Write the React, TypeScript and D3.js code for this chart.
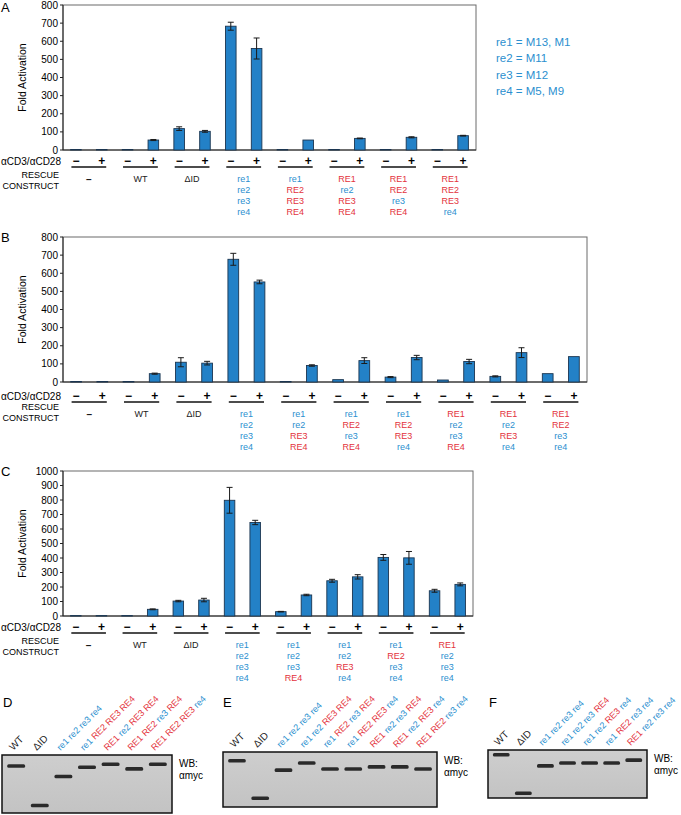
import * as d3 from "d3";

const FONT = "Arial, 'Liberation Sans', Helvetica, sans-serif";
const BLUE_TXT = "#2b8fcf";
const RED_TXT = "#e3333c";
const BAR_FILL = "#2381c7";
const BAR_STROKE = "#1b3550";
const LEFT = 63;

// panel A
const groupsA = ["-", "WT", "ΔID", "re1 re2 re3 re4", "re1 RE2 RE3 RE4", "RE1 re2 RE3 RE4", "RE1 RE2 re3 RE4", "RE1 RE2 RE3 re4"];
const valuesA = [3, 3, 3, 55, 118, 103, 683, 560, 3, 55, 3, 64, 3, 70, 3, 79];
const errorsA = [0, 0, 0, 3, 10, 5, 22, 58, 0, 0, 0, 2, 0, 3, 0, 2];

// panel B
const groupsB = ["-", "WT", "ΔID", "re1 re2 re3 re4", "re1 re2 RE3 RE4", "re1 RE2 re3 RE4", "re1 RE2 RE3 re4", "RE1 re2 re3 RE4", "RE1 re2 RE3 re4", "RE1 RE2 re3 re4"];
const valuesB = [3, 3, 3, 46, 109, 104, 677, 552, 3, 91, 13, 118, 27, 135, 11, 113, 31, 162, 46, 140];
const errorsB = [0, 0, 0, 3, 25, 10, 33, 10, 0, 4, 0, 16, 3, 12, 0, 12, 3, 27, 0, 0];

// panel C
const groupsC = ["-", "WT", "ΔID", "re1 re2 re3 re4", "re1 re2 re3 RE4", "re1 re2 RE3 re4", "re1 RE2 re3 re4", "RE1 re2 re3 re4"];
const valuesC = [3, 3, 3, 46, 103, 110, 798, 645, 30, 145, 243, 270, 404, 401, 174, 218];
const errorsC = [0, 0, 0, 3, 5, 12, 89, 15, 2, 5, 10, 15, 20, 44, 10, 10];

const legendLabels = ["re1 = M13, M1", "re2 = M11", "re3 = M12", "re4 = M5, M9"];

// western blots: lane labels and band mobility (0 = top of blot, 1 = bottom)
const lanesD = ["WT", "ΔID", "re1 re2 re3 re4", "re1 RE2 RE3 RE4", "RE1 re2 RE3 RE4", "RE1 RE2 re3 RE4", "RE1 RE2 RE3 re4"];
const bandsD = [0.19, 0.87, 0.37, 0.21, 0.16, 0.24, 0.16];
const lanesE = ["WT", "ΔID", "re1 re2 re3 re4", "re1 re2 RE3 RE4", "re1 RE2 re3 RE4", "re1 RE2 RE3 re4", "RE1 re2 re3 RE4", "RE1 re2 RE3 re4", "RE1 RE2 re3 re4"];
const bandsE = [0.16, 0.84, 0.33, 0.2, 0.31, 0.31, 0.27, 0.27, 0.31];
const lanesF = ["WT", "ΔID", "re1 re2 re3 re4", "re1 re2 re3 RE4", "re1 re2 RE3 re4", "re1 RE2 re3 re4", "RE1 re2 re3 re4"];
const bandsF = [0.1, 0.9, 0.33, 0.27, 0.27, 0.27, 0.21];

const tokenColor = (t: string) => (t.startsWith("RE") ? RED_TXT : t.startsWith("re") ? BLUE_TXT : "#1a1a1a");

type PanelProps = {
  letter: string;
  top: number;
  bottom: number;
  right: number;
  yMax: number;
  groups: string[];
  values: number[];
  errors: number[];
  shift: number;
};

const BarPanel = ({ letter, top, bottom, right, yMax, groups, values, errors, shift }: PanelProps) => {
  const x = d3
    .scaleBand<number>()
    .domain(d3.range(values.length))
    .range([LEFT, right])
    .paddingInner(0.59)
    .paddingOuter(0.295);
  const y = d3.scaleLinear().domain([0, yMax]).range([bottom, top]);
  const bw = x.bandwidth();
  const cx = (i: number) => (x(i) ?? 0) + bw / 2;

  return (
    <g>
      <text x={1} y={Math.max(top + 5, 12)} fontSize={13}>{letter}</text>
      <rect x={LEFT} y={top} width={right - LEFT} height={bottom - top} fill="none" stroke="#6a6a6a" />
      <line x1={LEFT} x2={LEFT} y1={top} y2={bottom} stroke="#222" />
      <line x1={LEFT} x2={right} y1={bottom} y2={bottom} stroke="#222" />
      {y.ticks(yMax / 100).map((t) => (
        <g key={t}>
          <line x1={LEFT - 3} x2={LEFT} y1={y(t)} y2={y(t)} stroke="#222" />
          <text x={LEFT - 5} y={y(t)} dy="0.35em" textAnchor="end" fontSize={10}>{t}</text>
        </g>
      ))}
      <text transform={`translate(26,${(top + bottom) / 2}) rotate(-90)`} textAnchor="middle" fontSize={10.5}>
        Fold Activation
      </text>

      {values.map((v, i) => (
        <rect key={i} x={x(i)} y={y(v)} width={bw} height={bottom - y(v)} fill={BAR_FILL} stroke={BAR_STROKE} strokeWidth={0.9} />
      ))}
      {errors.map((e, i) =>
        e > 0 ? (
          <g key={i} stroke="#1a1a1a" strokeWidth={1}>
            <line x1={cx(i)} x2={cx(i)} y1={y(values[i] + e)} y2={y(values[i] - e)} />
            <line x1={cx(i) - 3} x2={cx(i) + 3} y1={y(values[i] + e)} y2={y(values[i] + e)} />
            <line x1={cx(i) - 3} x2={cx(i) + 3} y1={y(values[i] - e)} y2={y(values[i] - e)} />
          </g>
        ) : null
      )}

      <text x={61} y={bottom + 11 + shift} dy="0.35em" textAnchor="end" fontSize={10}>αCD3/αCD28</text>
      <text x={59} y={bottom + 25} dy="0.35em" textAnchor="end" fontSize={9}>RESCUE</text>
      <text x={59} y={bottom + 36} dy="0.35em" textAnchor="end" fontSize={9}>CONSTRUCT</text>

      {values.map((_, i) => (
        <text key={i} x={cx(i)} y={bottom + 11 + shift} dy="0.35em" textAnchor="middle" fontSize={12} fontWeight="bold">
          {i % 2 === 0 ? "−" : "+"}
        </text>
      ))}
      {groups.map((g, gi) => {
        const a = cx(gi * 2);
        const b = cx(gi * 2 + 1);
        const mid = (a + b) / 2;
        const tokens = g.split(" ");
        return (
          <g key={gi}>
            <line x1={a - 4.5} x2={b + 4.5} y1={bottom + 17 + shift} y2={bottom + 17 + shift} stroke="#111" strokeWidth={1.4} />
            {tokens.map((t, k) => (
              <text
                key={k}
                x={mid}
                y={bottom + 29 + shift + k * 11}
                dy="0.35em"
                textAnchor="middle"
                fontSize={t === "-" ? 10 : 9}
                fontWeight={t === "-" ? "bold" : "normal"}
                fill={tokenColor(t)}
              >
                {t === "-" ? "–" : t}
              </text>
            ))}
          </g>
        );
      })}
    </g>
  );
};

type BlotProps = {
  letter: string;
  letterX: number;
  x0: number;
  x1: number;
  y0: number;
  y1: number;
  lanes: string[];
  bands: number[];
};

const Blot = ({ letter, letterX, x0, x1, y0, y1, lanes, bands }: BlotProps) => {
  const lx = d3.scalePoint<number>().domain(d3.range(lanes.length)).range([x0, x1]).padding(0.6);
  const my = d3.scaleLinear().domain([0, 1]).range([y0, y1]);
  const step = lx.step();
  return (
    <g>
      <text x={letterX} y={707} fontSize={13}>{letter}</text>
      <rect x={x0} y={y0} width={x1 - x0} height={y1 - y0} fill="url(#blotGrad)" stroke="#111" strokeWidth={1.5} />
      {bands.map((b, i) => (
        <rect
          key={i}
          x={(lx(i) ?? 0) - step * 0.38}
          y={my(b) - 1.8}
          width={step * 0.76}
          height={3.6}
          rx={1.5}
          fill="#2b2b2b"
          filter="url(#bandBlur)"
        />
      ))}
      {lanes.map((l, i) => {
        const tokens = l.split(" ");
        return (
          <text
            key={i}
            transform={`translate(${(lx(i) ?? 0) - 3},${y0 - 4}) rotate(-45)`}
            fontSize={tokens.length > 1 ? 9 : 10}
            style={{ whiteSpace: "pre" }}
          >
            {tokens.map((t, k) => (
              <tspan key={k} fill={tokenColor(t)}>{(k > 0 ? " " : "") + t}</tspan>
            ))}
          </text>
        );
      })}
      <text x={x1 + 7} y={y0 + 12} fontSize={10}>WB:</text>
      <text x={x1 + 7} y={y0 + 23.5} fontSize={10}>αmyc</text>
    </g>
  );
};

export default function App() {
  return (
    <svg width={681} height={815} style={{ position: "absolute", left: 0, top: 0, background: "#fff" }} fontFamily={FONT}>
      <defs>
        <linearGradient id="blotGrad" x1="0" x2="0" y1="0" y2="1">
          <stop offset="0" stopColor="#cecece" />
          <stop offset="1" stopColor="#c3c3c3" />
        </linearGradient>
        <filter id="bandBlur" x="-20%" y="-100%" width="140%" height="300%">
          <feGaussianBlur stdDeviation="0.6" />
        </filter>
      </defs>
      <rect width={681} height={815} fill="#fff" />

      <BarPanel letter="A" top={5} bottom={150} right={476} yMax={800} groups={groupsA} values={valuesA} errors={errorsA} shift={0} />
      {legendLabels.map((l, i) => (
        <text key={l} x={496} y={46 + i * 16.3} fontSize={11.5} fill={BLUE_TXT}>{l}</text>
      ))}
      <BarPanel letter="B" top={237} bottom={382} right={587} yMax={800} groups={groupsB} values={valuesB} errors={errorsB} shift={3} />
      <BarPanel letter="C" top={471} bottom={616} right={473} yMax={1000} groups={groupsC} values={valuesC} errors={errorsC} shift={0} />

      <Blot letter="D" letterX={3} x0={2} x1={172} y0={755} y1={813} lanes={lanesD} bands={bandsD} />
      <Blot letter="E" letterX={223} x0={223} x1={437} y0={752} y1={807} lanes={lanesE} bands={bandsE} />
      <Blot letter="F" letterX={489} x0={488} x1={647} y0={750} y1={798} lanes={lanesF} bands={bandsF} />
    </svg>
  );
}
